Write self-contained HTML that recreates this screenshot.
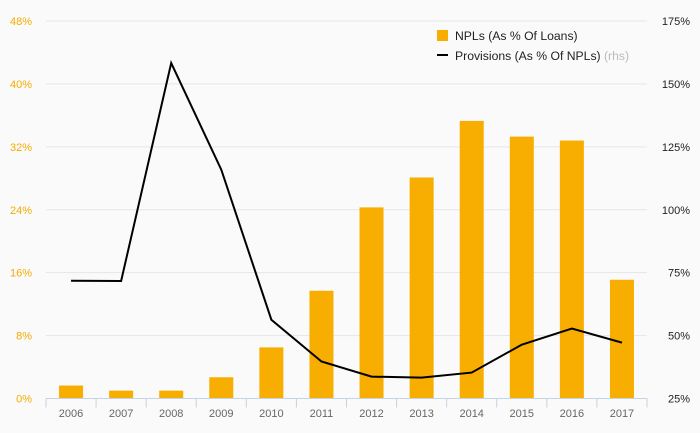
<!DOCTYPE html>
<html><head><meta charset="utf-8"><style>
body{margin:0;background:#fafafa;}
svg{display:block;font-family:"Liberation Sans",sans-serif;}
</style></head><body>
<svg id="c" width="700" height="433"></svg>
<script>
const years=["2006","2007","2008","2009","2010","2011","2012","2013","2014","2015","2016","2017"];
const npls=[1.65,1.0,1.0,2.7,6.5,13.7,24.3,28.1,35.3,33.3,32.8,15.1];
const provisions=[71.8,71.7,158.3,115.9,56.3,39.7,33.7,33.3,35.3,46.4,52.8,47.2];
const leftTicks=[0,8,16,24,32,40,48];
const rightTicks=[25,50,75,100,125,150,175];
const NS="http://www.w3.org/2000/svg";
const svg=document.getElementById('c');
const x0=46,x1=647,yb=398.5,yt=21;
const band=(x1-x0)/years.length;
const xc=i=>x0+band*(i+0.5);
const yL=v=>yb-(v/48)*(yb-yt);
const yR=v=>yb-((v-25)/150)*(yb-yt);
function mk(t,a,p){const e=document.createElementNS(NS,t);for(const k in a)e.setAttribute(k,a[k]);(p||svg).appendChild(e);return e;}
leftTicks.forEach((v,i)=>{
 const y=yL(v);
 if(v>0){const g=mk('line',{x1:x0,x2:x1,y1:y,y2:y,stroke:'#e6e6e6','stroke-width':1});
 
 }
 const t=mk('text',{x:32,y:y+4,'text-anchor':'end','font-size':11,fill:'#f5ab00'});t.textContent=v+'%';
 
 
});
rightTicks.forEach(v=>{
 const t=mk('text',{x:690,y:yR(v)+4,'text-anchor':'end','font-size':11,fill:'#222'});t.textContent=v+'%';
 
 
});
years.forEach((yr,i)=>{
 const h=yb-yL(npls[i]);
 const b=mk('rect',{x:xc(i)-12,y:yL(npls[i]),width:24,height:h,fill:'#f8ae00'});
 
 
 const t=mk('text',{x:xc(i),y:417,'text-anchor':'middle','font-size':11,fill:'#666'});t.textContent=yr;
 
 
});
const ax=mk('line',{x1:x0,x2:x1,y1:yb,y2:yb,stroke:'#c5d3e8','stroke-width':1});


for(let i=0;i<=years.length;i++){const x=x0+band*i;mk('line',{x1:x,x2:x,y1:yb,y2:yb+9,stroke:'#c5d3e8'});}
const pl=mk('polyline',{points:provisions.map((v,i)=>xc(i)+','+yR(v)).join(' '),fill:'none',stroke:'#000','stroke-width':2});


const lg=mk('g',{});


mk('rect',{x:437,y:30,width:11,height:11,fill:'#f8ae00'},lg);
let t1=mk('text',{x:455,y:40,'font-size':12.2,fill:'#222'},lg);t1.textContent='NPLs (As % Of Loans)';
mk('line',{x1:437,x2:448,y1:55,y2:55,stroke:'#000','stroke-width':2},lg);
let t2=mk('text',{x:455,y:60,'font-size':12.2,fill:'#222'},lg);t2.innerHTML='Provisions (As % Of NPLs) <tspan fill="#bbb">(rhs)</tspan>';
</script>
</body></html>
